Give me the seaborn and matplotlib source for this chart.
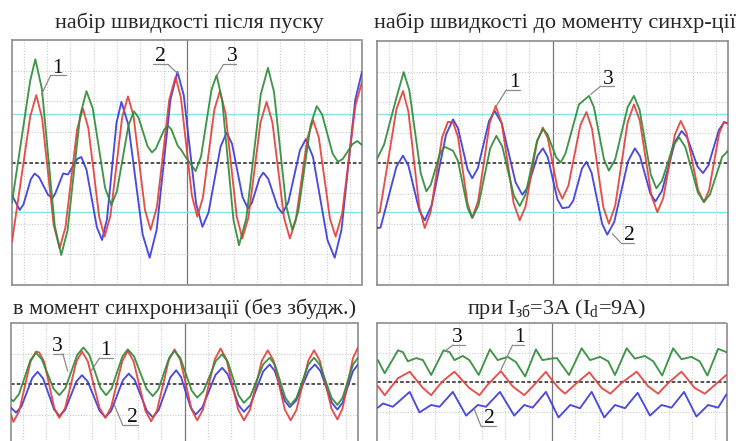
import matplotlib
matplotlib.use("Agg")
import matplotlib.pyplot as plt
import seaborn as sns
import pandas as pd

sns.set_style("white")
plt.rcParams['font.family'] = ['Liberation Serif', 'DejaVu Serif']
plt.rcParams['mathtext.fontset'] = 'custom'
plt.rcParams['mathtext.rm'] = 'Liberation Serif'
plt.rcParams['mathtext.it'] = 'Liberation Serif:italic'

# ---------------- data: (x in grid units 0..15, y in divisions) ----------------
titles = ["набір швидкості після пуску", "набір швидкості до моменту синхр-ції",
          "в момент синхронизації (без збудж.)", "при I$_{\\mathrm{зб}}$=3A (I$_{\\mathrm{d}}$=9A)"]
series_names = ["2", "1", "3"]

# panel 1
p1_red = [(0.0,-2.59),(0.78,1.5),(1.04,2.2),(1.29,1.45),(1.79,-2.05),(2.04,-2.8),(2.29,-2.12),(2.79,1.08),(3.04,1.76),
          (3.27,1.13),(3.74,-1.79),(3.97,-2.42),(4.22,-1.73),(4.72,1.47),(4.97,2.16),(5.21,1.51),(5.70,-1.55),(5.94,-2.2),
          (6.21,-1.45),(6.74,2.05),(7.01,2.8),(7.24,2.11),(7.71,-1.08),(7.94,-1.77),(8.18,-1.15),(8.67,1.72),(8.91,2.33),
          (9.15,1.61),(9.63,-1.76),(9.87,-2.48),(10.13,-1.81),(10.65,1.31),(10.91,1.98),(11.16,1.31),(11.66,-1.81),
          (11.91,-2.48),(12.16,-1.9),(12.66,0.8),(12.91,1.38),(13.15,0.81),(13.63,-1.85),(13.87,-2.42),(14.15,-1.66),
          (14.72,1.87),(15.0,2.63)]
p1_green = [(0.0,-1.3),(0.78,2.67),(1.0,3.37),(1.28,2.41),(1.83,-2.06),(2.11,-3.02),(2.38,-2.22),(2.92,1.53),(3.19,2.33),
            (3.46,1.77),(3.99,-0.83),(4.26,-1.39),(4.5,-0.93),(4.99,1.21),(5.23,1.67),(5.42,1.47),(5.81,0.53),(6.0,0.33),
            (6.17,0.46),(6.52,1.07),(6.69,1.2),(6.83,1.08),(7.1,0.55),(7.26,0.4),(7.44,0.18),(7.87,-0.28),(8.1,0.19),
            (8.55,2.38),(8.77,2.85),(9.01,2.02),(9.49,-1.87),(9.73,-2.7),(10.04,-1.83),(10.66,2.22),(10.97,3.09),
            (11.23,2.3),(11.75,-1.41),(12.01,-2.2),(12.27,-1.59),(12.8,1.23),(13.06,1.84),(13.29,1.57),(13.74,0.29),
            (13.97,0.02),(14.18,0.12),(14.59,0.6),(14.8,0.7),(15.0,0.57)]
p1_blue = [(0.0,-1.07),(0.33,-1.55),(0.49,-1.37),(0.81,-0.54),(0.97,-0.36),(1.16,-0.48),(1.54,-1.05),(1.73,-1.17),
           (1.85,-1.02),(2.19,-0.36),(2.4,-0.39),(2.8,0.12),(2.97,0.18),(3.19,-0.23),(3.64,-2.12),(3.86,-2.53),
           (4.07,-1.85),(4.48,1.3),(4.69,1.98),(4.99,1.22),(5.6,-2.35),(5.9,-3.11),(6.2,-2.2),(6.79,2.05),(7.09,2.96),
           (7.36,2.2),(7.89,-1.34),(8.16,-2.1),(8.42,-1.64),(8.94,0.52),(9.2,0.98),(9.43,0.61),(9.88,-1.13),
           (10.11,-1.5),(10.28,-1.32),(10.61,-0.51),(10.77,-0.33),(10.98,-0.53),(11.39,-1.46),(11.59,-1.66),
           (11.84,-1.3),(12.34,0.4),(12.59,0.76),(12.9,0.18),(13.52,-2.53),(13.83,-3.11),(14.12,-2.2),(14.71,2.05),
           (15.0,2.96)]

# panel 2
p2_red = [(0.0,-1.66),(0.12,-1.6),(0.83,1.76),(1.11,2.36),(1.34,1.69),(1.81,-1.46),(2.04,-2.13),(2.29,-1.61),(2.78,0.83),
          (3.03,1.35),(3.25,1.33),(3.46,0.86),(3.87,-1.33),(4.07,-1.8),(4.32,-1.25),(4.82,1.32),(5.07,1.87),(5.33,1.31),
          (5.84,-1.32),(6.1,-1.88),(6.35,-1.42),(6.84,0.7),(7.09,1.16),(7.3,0.81),(7.71,-0.82),(7.92,-1.17),(8.18,-0.74),
          (8.69,1.24),(8.95,1.67),(9.19,1.12),(9.67,-1.44),(9.91,-1.99),(10.18,-1.4),(10.71,1.33),(10.98,1.92),
          (11.23,1.39),(11.73,-1.08),(11.98,-1.61),(12.23,-1.16),(12.73,0.93),(12.98,1.38),(13.23,0.98),(13.72,-0.88),
          (13.97,-1.28),(14.19,-0.89),(14.62,0.96),(14.83,1.35),(15.0,1.3)]
p2_green = [(0.0,0.13),(0.3,0.6),(0.83,2.14),(1.14,2.98),(1.38,2.39),(1.87,-0.34),(2.11,-0.93),(2.3,-0.71),(2.69,0.31),
            (2.89,0.53),(3.25,0.4),(3.46,0.07),(3.87,-1.47),(4.07,-1.8),(4.33,-1.4),(4.84,0.49),(5.1,0.89),(5.35,0.55),
            (5.85,-1.07),(6.1,-1.41),(6.35,-1.03),(6.84,0.73),(7.09,1.11),(7.28,0.95),(7.66,0.18),(7.85,0.02),(8.05,0.3),
            (8.63,1.92),(9.06,2.2),(9.27,1.83),(9.7,0.12),(9.91,-0.25),(10.18,0.12),(10.71,1.83),(10.98,2.2),(11.22,1.75),
            (11.7,-0.38),(11.94,-0.83),(12.18,-0.58),(12.67,0.59),(12.91,0.84),(13.18,0.52),(13.71,-0.96),(13.97,-1.28),
            (14.23,-1.03),(14.75,0.2),(15.0,0.4)]
p2_blue = [(0.0,-2.13),(0.15,-2.12),(0.83,-0.12),(1.11,0.24),(1.34,-0.08),(1.81,-1.56),(2.04,-1.88),(2.34,-1.38),
           (2.95,0.93),(3.25,1.43),(3.46,1.14),(3.87,-0.21),(4.07,-0.5),(4.31,-0.17),(4.79,1.38),(5.03,1.71),(5.33,1.3),
           (5.92,-0.63),(6.21,-1.04),(6.43,-0.81),(6.87,0.25),(7.09,0.48),(7.3,0.19),(7.71,-1.19),(7.92,-1.48),
           (8.2,-1.45),(8.39,-1.23),(8.76,-0.18),(8.95,0.04),(9.17,-0.32),(9.62,-1.99),(9.84,-2.35),(10.14,-1.93),
           (10.73,0.06),(11.02,0.48),(11.24,0.22),(11.68,-1.0),(11.9,-1.26),(12.18,-0.91),(12.74,0.7),(13.02,1.05),
           (13.25,0.84),(13.7,-0.12),(13.93,-0.33),(14.16,-0.08),(14.61,1.08),(14.83,1.33),(15.0,1.3)]

# panel 3
p3_red = [(0.0,-0.98),(0.1,-1.22),(0.35,-0.88),(0.84,0.73),(1.08,1.07),(1.22,1.04),(1.44,0.72),(1.87,-0.77),(2.09,-1.09),
          (2.34,-0.77),(2.83,0.75),(3.07,1.07),(3.32,0.75),(3.83,-0.77),(4.08,-1.09),(4.32,-0.76),(4.81,0.76),(5.05,1.09),
          (5.3,0.75),(5.81,-0.86),(6.06,-1.2),(6.31,-0.85),(6.82,0.79),(7.07,1.14),(7.32,0.79),(7.81,-0.82),(8.05,-1.17),
          (8.3,-0.82),(8.81,0.82),(9.06,1.17),(9.31,0.82),(9.82,-0.82),(10.07,-1.17),(10.33,-0.83),(10.84,0.77),
          (11.1,1.11),(11.35,0.77),(11.84,-0.83),(12.09,-1.17),(12.34,-0.83),(12.85,0.77),(13.1,1.11),(13.35,0.77),
          (13.86,-0.8),(14.11,-1.14),(14.33,-0.79),(14.78,0.85),(15.0,1.2)]
p3_green = [(0.0,-0.49),(0.1,-0.55),(0.35,-0.31),(0.84,0.79),(1.08,1.03),(1.33,0.82),(1.84,-0.14),(2.09,-0.35),
            (2.35,-0.12),(2.87,0.97),(3.13,1.2),(3.38,0.97),(3.87,-0.12),(4.11,-0.35),(4.35,-0.13),(4.82,0.92),
            (5.05,1.14),(5.32,0.91),(5.86,-0.15),(6.13,-0.38),(6.37,-0.16),(6.84,0.87),(7.07,1.09),(7.32,0.86),
            (7.81,-0.2),(8.05,-0.43),(8.32,-0.22),(8.86,0.77),(9.13,0.98),(9.37,0.74),(9.84,-0.36),(10.07,-0.6),
            (10.35,-0.38),(10.9,0.65),(11.18,0.87),(11.41,0.64),(11.86,-0.44),(12.09,-0.67),(12.34,-0.44),(12.85,0.64),
            (13.1,0.87),(13.35,0.64),(13.86,-0.44),(14.11,-0.67),(14.33,-0.44),(14.78,0.64),(15.0,0.87)]
p3_blue = [(0.0,-0.76),(0.22,-0.92),(0.45,-0.72),(0.92,0.21),(1.15,0.41),(1.39,0.19),(1.86,-0.81),(2.09,-1.03),
           (2.34,-0.83),(2.83,0.1),(3.07,0.3),(3.32,0.09),(3.83,-0.86),(4.08,-1.07),(4.33,-0.86),(4.84,0.14),(5.09,0.35),
           (5.35,0.14),(5.87,-0.86),(6.13,-1.07),(6.38,-0.84),(6.89,0.23),(7.14,0.46),(7.35,0.24),(7.77,-0.76),
           (7.98,-0.98),(8.27,-0.75),(8.84,0.31),(9.13,0.54),(9.37,0.33),(9.84,-0.68),(10.07,-0.89),(10.35,-0.66),
           (10.9,0.42),(11.18,0.65),(11.4,0.44),(11.83,-0.53),(12.05,-0.74),(12.32,-0.53),(12.87,0.44),(13.14,0.65),
           (13.38,0.43),(13.87,-0.6),(14.11,-0.82),(14.33,-0.6),(14.78,0.43),(15.0,0.65)]

# panel 4
p4_green = [(0.04,0.75),(0.33,0.31),(0.9,1.08),(1.11,1.02),(1.32,0.71),(1.68,0.82),(1.97,0.75),(2.32,0.25),(2.85,1.08),
            (3.11,1.02),(3.32,0.75),(3.68,0.89),(3.96,0.75),(4.36,0.25),(4.84,1.11),(5.17,0.75),(5.6,0.86),(5.95,0.69),
            (6.35,0.2),(6.81,1.11),(7.09,0.75),(7.45,0.8),(7.71,0.82),(8.23,0.25),(8.77,1.15),(9.13,0.75),(9.56,0.86),
            (9.91,0.71),(10.2,0.25),(10.7,1.15),(11.05,0.8),(11.48,0.89),(11.84,0.71),(12.22,0.23),(12.69,1.15),
            (13.05,0.78),(13.47,0.86),(13.83,0.71),(14.16,0.23),(14.62,1.13),(14.97,1.02)]
p4_red = [(0.04,-0.13),(0.33,-0.43),(0.68,-0.08),(0.9,0.14),(1.4,0.36),(1.97,-0.19),(2.32,-0.43),(2.68,-0.08),(2.89,0.09),
          (3.32,0.36),(3.96,-0.19),(4.39,-0.43),(4.74,-0.08),(5.31,0.38),(5.81,-0.13),(6.31,-0.43),(6.74,-0.08),(7.24,0.36),
          (7.35,0.23),(7.78,-0.19),(8.06,-0.38),(8.56,-0.02),(9.1,0.34),(9.63,-0.19),(10.0,-0.38),(10.48,-0.02),
          (11.13,0.36),(11.62,-0.13),(12.05,-0.38),(12.48,-0.02),(13.05,0.36),(13.62,-0.19),(14.05,-0.38),(14.97,0.25)]
p4_blue = [(0.04,-0.85),(0.26,-0.71),(0.68,-0.82),(1.4,-0.32),(1.82,-1.01),(2.32,-0.76),(2.68,-0.82),(3.25,-0.32),
           (3.82,-1.12),(4.32,-0.76),(4.67,-0.82),(5.27,-0.32),(5.88,-1.12),(6.31,-0.76),(6.67,-0.85),(7.24,-0.32),
           (7.78,-1.18),(8.28,-0.76),(8.7,-0.87),(9.2,-0.32),(9.74,-1.18),(10.2,-0.76),(10.63,-0.87),(11.17,-0.35),
           (11.7,-1.12),(12.19,-0.76),(12.62,-0.85),(13.16,-0.32),(13.69,-1.15),(14.19,-0.76),(14.62,-0.85),(14.97,-0.41)]

# curve labels: (text, text_x, text_y, underline_x0, underline_x1, underline_y, leader_x, leader_y, leader_from_right)
p1_labels = [("1", 1.97, 3.07, 1.66, 2.3, 2.85, 1.26, 2.22, 0),
             ("2", 6.37, 3.45, 6.04, 6.69, 3.2, 7.11, 2.9, 1),
             ("3", 9.44, 3.45, 9.06, 9.6, 3.2, 8.8, 2.87, 0)]
p2_labels = [("1", 5.88, 2.63, 5.53, 6.1, 2.4, 5.1, 1.87, 0),
             ("3", 9.89, 2.74, 9.56, 10.13, 2.52, 9.13, 2.25, 0),
             ("2", 10.77, -2.37, 10.41, 10.98, -2.61, 10.06, -2.32, 0)]
p3_labels = [("3", 2.02, 1.25, 1.8, 2.24, 1.0, 2.45, 0.43, 1),
             ("1", 4.08, 1.11, 3.82, 4.4, 0.85, 3.46, 0.43, 0),
             ("2", 5.24, -1.09, 4.83, 5.48, -1.33, 4.47, -0.67, 0)]
p4_labels = [("3", 3.46, 1.52, 3.25, 3.75, 1.26, 2.96, 1.08, 0),
             ("1", 6.1, 1.52, 5.81, 6.31, 1.26, 5.31, 0.42, 0),
             ("2", 4.81, -1.23, 4.46, 5.1, -1.48, 4.17, -0.9, 0)]

palette = {"1": "#e4403a", "2": "#3a3adc", "3": "#2f8c38"}


def make_df(blue, red, green):
    parts = []
    for name, pts in (("2", blue), ("1", red), ("3", green)):
        parts.append(pd.DataFrame({"x": [p[0] for p in pts], "y": [p[1] for p in pts], "series": name}))
    return pd.concat(parts, ignore_index=True)


panels = [
    dict(df=make_df(p1_blue, p1_red, p1_green),
         pos=[12/740, 1-285/441, 350/740, 245/441], ylim=(-4, 4), cyan=True, labels=p1_labels),
    dict(df=make_df(p2_blue, p2_red, p2_green),
         pos=[377/740, 1-285/441, 351/740, 244/441], ylim=(-4, 4), cyan=True, labels=p2_labels),
    dict(df=make_df(p3_blue, p3_red, p3_green),
         pos=[11/740, 1-507.2/441, 347/740, 184.2/441], ylim=(-4, 2), cyan=False, labels=p3_labels),
    dict(df=make_df(p4_blue, p4_red, p4_green),
         pos=[377/740, 1-501.2/441, 350/740, 178.2/441], ylim=(-4, 2), cyan=False, labels=p4_labels),
]

fig = plt.figure(figsize=(7.4, 4.41), dpi=100)

for p in panels:
    ax = fig.add_axes(p["pos"])
    ax.set_xlim(0, 15)
    ax.set_ylim(*p["ylim"])
    for gx in [i + 0.5 for i in range(15)]:
        if abs(gx - 7.5) < 1e-6:
            ax.axvline(gx, color="#777777", lw=0.9, zorder=1)
        else:
            ax.axvline(gx, color="#cacaca", lw=0.8, ls=(0, (1, 1.5)), zorder=1)
    for gy in range(int(p["ylim"][0]) + 1, int(p["ylim"][1])):
        if gy == 0:
            ax.axhline(0, color="#444444", lw=1.3, ls=(0, (2, 1.2)), zorder=1)
        else:
            ax.axhline(gy, color="#cacaca", lw=0.8, ls=(0, (1, 1.5)), zorder=1)
    if p["cyan"]:
        ax.axhline(1.6, color="#86e3ea", lw=1.0, zorder=1)
        ax.axhline(-1.6, color="#86e3ea", lw=1.0, zorder=1)

    sns.lineplot(data=p["df"], x="x", y="y", hue="series", hue_order=series_names,
                 palette=palette, sort=False, estimator=None, units="series",
                 legend=False, lw=1.35, alpha=0.92, ax=ax, zorder=3)

    for (t, tx, ty, ux0, ux1, uy, lx, ly, end) in p["labels"]:
        ax.text(tx, ty, t, fontsize=15.5, ha="center", va="center", color="#111111", zorder=5)
        ax.plot([ux0, ux1], [uy, uy], color="#8a8a8a", lw=0.9, zorder=5)
        sx = ux1 if end else ux0
        ax.plot([sx, lx], [uy, ly], color="#8a8a8a", lw=0.9, zorder=5)

    ax.set_xticks([])
    ax.set_yticks([])
    ax.set_xlabel("")
    ax.set_ylabel("")
    for s in ax.spines.values():
        s.set_color("#8c8c8c")
        s.set_linewidth(1.2)
        s.set_linestyle((0, (1, 1)))

fig.text(189/740, 1-23/441, titles[0], fontsize=16, ha="center", va="center")
fig.text(555/740, 1-23/441, titles[1], fontsize=16, ha="center", va="center")
fig.text(185/740, 1-309/441, titles[2], fontsize=16, ha="center", va="center")
fig.text(557/740, 1-309/441, titles[3], fontsize=16, ha="center", va="center")

fig.savefig("out.png", dpi=100)
